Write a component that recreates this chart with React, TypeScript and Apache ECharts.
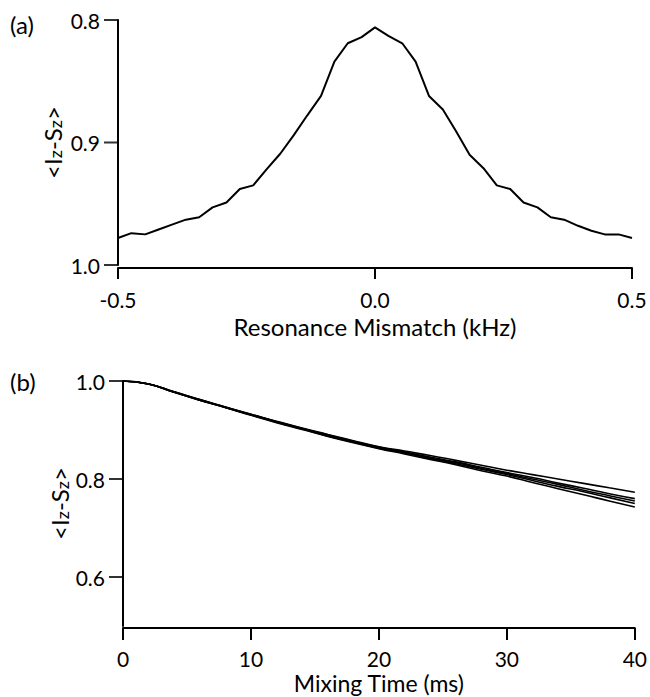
import React, { useEffect, useRef } from "react";
import * as echarts from "echarts";

const mismatchKHz = [
  -0.5, -0.474, -0.447, -0.421, -0.395, -0.368, -0.342, -0.316, -0.289, -0.263,
  -0.237, -0.211, -0.184, -0.158, -0.132, -0.105, -0.079, -0.053, -0.026, 0,
  0.026, 0.053, 0.079, 0.105, 0.132, 0.158, 0.184, 0.211, 0.237, 0.263,
  0.289, 0.316, 0.342, 0.368, 0.395, 0.421, 0.447, 0.474, 0.5,
];
const mismatchSignal = [
  0.978, 0.974, 0.975, 0.971, 0.967, 0.963, 0.961, 0.953, 0.949, 0.938,
  0.935, 0.922, 0.909, 0.894, 0.878, 0.862, 0.834, 0.819, 0.814, 0.806,
  0.813, 0.819, 0.834, 0.862, 0.873, 0.891, 0.91, 0.921, 0.935, 0.938,
  0.949, 0.953, 0.961, 0.963, 0.968, 0.972, 0.975, 0.975, 0.978,
];
const topXTicks = [-0.5, 0, 0.5];
const topYTicks = [0.8, 0.9, 1.0];

const mixingTimeMs = [0, 2, 4, 6, 8, 10, 12, 14, 16, 18, 20, 22, 24, 26, 28, 30, 32, 34, 36, 38, 40];
const curveA = [1.0, 0.994, 0.978, 0.962, 0.947, 0.932, 0.918, 0.904, 0.891, 0.878, 0.866, 0.857, 0.848, 0.838, 0.828, 0.818, 0.809, 0.8, 0.791, 0.782, 0.773];
const curveB = [1.0, 0.994, 0.978, 0.962, 0.947, 0.932, 0.917, 0.903, 0.89, 0.877, 0.865, 0.855, 0.845, 0.835, 0.824, 0.813, 0.803, 0.792, 0.781, 0.77, 0.76];
const curveC = [1.0, 0.994, 0.977, 0.961, 0.946, 0.931, 0.917, 0.903, 0.889, 0.876, 0.864, 0.854, 0.843, 0.833, 0.822, 0.811, 0.8, 0.789, 0.777, 0.766, 0.755];
const curveD = [1.0, 0.994, 0.977, 0.961, 0.946, 0.931, 0.916, 0.902, 0.888, 0.875, 0.863, 0.853, 0.842, 0.831, 0.82, 0.809, 0.797, 0.785, 0.774, 0.762, 0.75];
const curveE = [1.0, 0.994, 0.977, 0.961, 0.946, 0.93, 0.915, 0.901, 0.887, 0.874, 0.862, 0.851, 0.84, 0.829, 0.817, 0.806, 0.793, 0.78, 0.768, 0.755, 0.743];
const bottomYTicks = [0.6, 0.8, 1.0];

const FONT = "Lato";
const INK = "#000";

const yName = "<I{s|z}-S{s|z}>";
const yNameStyle = {
  fontFamily: FONT,
  fontSize: 24,
  color: INK,
  rich: {
    s: { fontFamily: FONT, fontSize: 18, color: INK, verticalAlign: "bottom", lineHeight: 8 },
  },
};

export default function App() {
  const ref = useRef<HTMLDivElement>(null);
  useEffect(() => {
    if (!ref.current) return;
    const chart = echarts.init(ref.current, undefined, { renderer: "svg" });
    const axisLine = { show: true, onZero: false, lineStyle: { color: INK, width: 2 } };
    const axisLabelBase = { color: INK, fontFamily: FONT, fontSize: 21, lineHeight: 20 };
    const bottomSeries = [curveA, curveB, curveC, curveD, curveE].map((c, i) => ({
      type: "line",
      name: "curve" + i,
      xAxisIndex: 1,
      yAxisIndex: 1,
      data: mixingTimeMs.map((t, j) => [t, c[j]]),
      smooth: true,
      showSymbol: false,
      lineStyle: { color: INK, width: 1.6 },
    }));
    // y-axis tick marks drawn as short dashes anchored at the axis' minimum x
    const tickMarks = (xi: number, xMin: number, vals: number[]) => ({
      type: "scatter",
      xAxisIndex: xi,
      yAxisIndex: xi,
      data: vals.map((v) => [xMin, v]),
      symbol: "rect",
      symbolSize: [14, 2],
      symbolOffset: [-7, 0],
      itemStyle: { color: INK },
      clip: false,
      silent: true,
      z: 5,
    });
    chart.setOption({
      animation: false,
      backgroundColor: "#fff",
      grid: [
        { left: 118, right: 18, top: 20, height: 245 },
        { left: 123, right: 14, top: 381, height: 245 },
      ],
      xAxis: [
        {
          type: "value",
          gridIndex: 0,
          min: -0.5,
          max: 0.5,
          interval: 0.5,
          offset: 3,
          axisLine,
          axisTick: { show: true, length: 11, lineStyle: { color: INK, width: 2 } },
          splitLine: { show: false },
          axisLabel: {
            ...axisLabelBase,
            margin: 21,
            customValues: topXTicks,
            formatter: (v: number) => v.toFixed(1),
          },
          name: "Resonance Mismatch (kHz)",
          nameLocation: "middle",
          nameGap: 46,
          nameMoveOverlap: false,
          nameTextStyle: { fontFamily: FONT, fontSize: 24, color: INK, lineHeight: 24 },
        },
        {
          type: "value",
          gridIndex: 1,
          min: 0,
          max: 40,
          interval: 10,
          offset: 2,
          axisLine,
          axisTick: { show: true, length: 12, lineStyle: { color: INK, width: 2 } },
          splitLine: { show: false },
          axisLabel: { ...axisLabelBase, margin: 20 },
          name: "Mixing Time (ms)",
          nameLocation: "middle",
          nameGap: 43,
          nameMoveOverlap: false,
          nameTextStyle: { fontFamily: FONT, fontSize: 23, color: INK, lineHeight: 23 },
        },
      ],
      yAxis: [
        {
          type: "value",
          gridIndex: 0,
          position: "left",
          min: 0.8,
          max: 1.0,
          interval: 0.1,
          inverse: true,
          axisLine,
          axisTick: { show: false },
          splitLine: { show: false },
          axisLabel: {
            ...axisLabelBase,
            margin: 18,
            formatter: (v: number) => v.toFixed(1),
          },
          name: yName,
          nameLocation: "middle",
          nameRotate: 90,
          nameGap: 54,
          nameMoveOverlap: false,
          nameTextStyle: yNameStyle,
        },
        {
          type: "value",
          gridIndex: 1,
          position: "left",
          min: 0.5,
          max: 1.0,
          axisLine,
          axisTick: { show: false },
          splitLine: { show: false },
          axisLabel: {
            ...axisLabelBase,
            margin: 18,
            customValues: bottomYTicks,
            formatter: (v: number) => v.toFixed(1),
          },
          name: yName,
          nameLocation: "middle",
          nameRotate: 90,
          nameGap: 52,
          nameMoveOverlap: false,
          nameTextStyle: yNameStyle,
        },
      ],
      graphic: [
        { type: "text", left: 10, top: 12, style: { text: "(a)", fontFamily: FONT, fontSize: 24, fill: INK } },
        { type: "text", left: 10, top: 369, style: { text: "(b)", fontFamily: FONT, fontSize: 24, fill: INK } },
      ],
      series: [
        {
          type: "line",
          name: "mismatch",
          xAxisIndex: 0,
          yAxisIndex: 0,
          data: mismatchKHz.map((x, i) => [x, mismatchSignal[i]]),
          showSymbol: false,
          lineStyle: { color: INK, width: 2 },
        },
        ...bottomSeries,
        tickMarks(0, -0.5, topYTicks),
        tickMarks(1, 0, bottomYTicks),
      ],
    });
    return () => chart.dispose();
  }, []);
  return (
    <div
      ref={ref}
      style={{ position: "fixed", left: 0, top: 0, width: 650, height: 697 }}
    />
  );
}
